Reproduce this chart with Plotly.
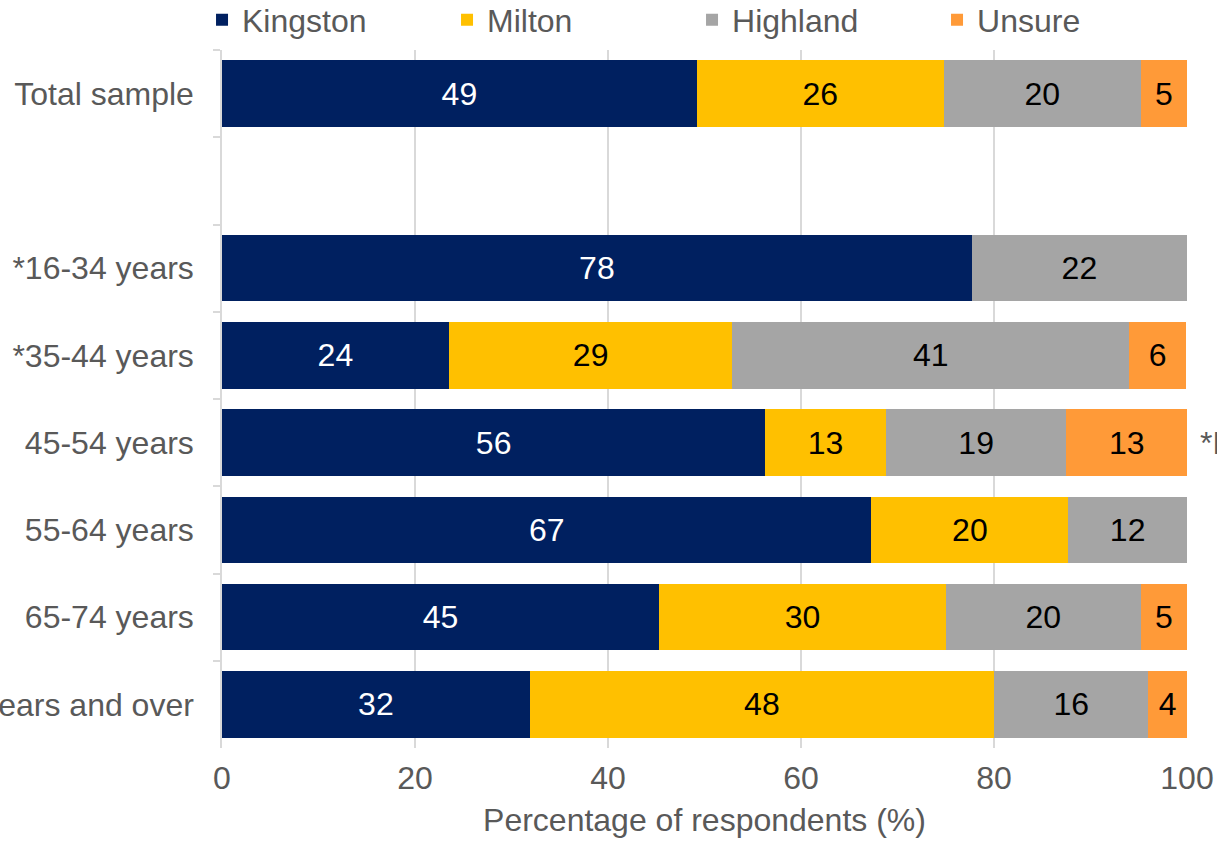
import plotly.graph_objects as go

categories = ["Total sample", " ", "*16-34 years", "*35-44 years", "45-54 years",
              "55-64 years", "65-74 years", "75 years and over"]
kingston = [49.2, None, 77.7, 23.5, 56.3, 67.3, 45.3, 31.9]
milton = [25.6, None, None, 29.4, 12.5, 20.4, 29.7, 48.1]
highland = [20.4, None, 22.3, 41.1, 18.7, 12.3, 20.2, 16.0]
unsure = [4.8, None, None, 5.9, 12.5, None, 4.8, 4.0]

series = [
    ("Kingston", kingston, "#002060", "white"),
    ("Milton", milton, "#FFC000", "black"),
    ("Highland", highland, "#A5A5A5", "black"),
    ("Unsure", unsure, "#FF9A38", "black"),
]

font = "Liberation Sans, Arial, sans-serif"
grey = "#595959"
fs = 32

fig = go.Figure()
for name, vals, col, tcol in series:
    fig.add_trace(go.Bar(
        y=categories, x=vals, name=name, orientation="h",
        marker=dict(color=col, line=dict(width=0)),
        texttemplate="%{x:.0f}", textposition="inside", insidetextanchor="middle",
        textfont=dict(color=tcol, size=fs, family=font),
    ))

# note marker at the right edge (cut off in the original image)
fig.add_annotation(x=1.0114, y="45-54 years", xref="paper", yref="y",
                   text="*N", showarrow=False, xanchor="left",
                   font=dict(size=fs, color=grey, family=font))

fig.update_layout(
    barmode="stack", bargap=0.24,
    width=1217, height=849,
    margin=dict(l=222, r=30, t=50, b=101, autoexpand=False),
    plot_bgcolor="white", paper_bgcolor="white",
    font=dict(family=font, size=fs, color=grey),
    legend=dict(orientation="h", x=-0.0207, y=1.043, xanchor="left", yanchor="middle",
                entrywidth=200, font=dict(size=fs, color=grey), traceorder="normal"),
    showlegend=True,
)
fig.update_xaxes(range=[0, 100], dtick=20, showgrid=True, gridcolor="#D9D9D9", gridwidth=1.5,
                 zeroline=False, showline=False, automargin=False, ticklabelstandoff=8,
                 tickfont=dict(size=fs, color=grey),
                 title=dict(text="Percentage of respondents (%)", font=dict(size=fs, color=grey),
                            standoff=13))
fig.update_yaxes(autorange="reversed", showline=True, linecolor="#D9D9D9", linewidth=1.5,
                 ticks="outside", ticklen=7, tickcolor="#D9D9D9", tickwidth=1.5,
                 tickson="boundaries", showgrid=False, ticklabelstandoff=20, automargin=False,
                 tickfont=dict(size=fs, color=grey))

# drop the default page margin so the figure fills the window
fig.write_html("out.html", config={"displayModeBar": False},
               post_script="document.body.style.margin = '0';")
